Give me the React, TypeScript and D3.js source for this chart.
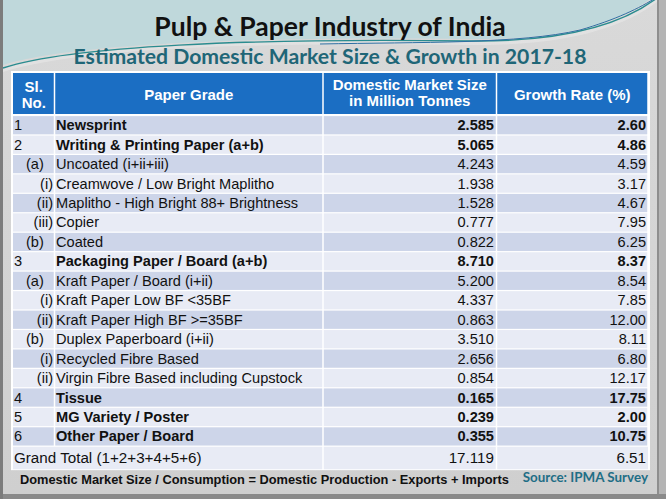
import * as d3 from "d3";

const W = 666;
const H = 499;

const slNo = ["1", "2", "(a)", "(i)", "(ii)", "(iii)", "(b)", "3", "(a)", "(i)", "(ii)", "(b)", "(i)", "(ii)", "4", "5", "6"];
const levels = [0, 0, 1, 2, 2, 2, 1, 0, 1, 2, 2, 1, 2, 2, 0, 0, 0];
const grades = [
  "Newsprint",
  "Writing & Printing Paper (a+b)",
  "Uncoated (i+ii+iii)",
  "Creamwove / Low Bright Maplitho",
  "Maplitho - High Bright 88+ Brightness",
  "Copier",
  "Coated",
  "Packaging Paper / Board (a+b)",
  "Kraft Paper / Board (i+ii)",
  "Kraft Paper Low BF <35BF",
  "Kraft Paper High BF >=35BF",
  "Duplex Paperboard (i+ii)",
  "Recycled Fibre Based",
  "Virgin Fibre Based including Cupstock",
  "Tissue",
  "MG Variety / Poster",
  "Other Paper / Board",
];
const marketSize = [2.585, 5.065, 4.243, 1.938, 1.528, 0.777, 0.822, 8.71, 5.2, 4.337, 0.863, 3.51, 2.656, 0.854, 0.165, 0.239, 0.355];
const growthRate = [2.6, 4.86, 4.59, 3.17, 4.67, 7.95, 6.25, 8.37, 8.54, 7.85, 12.0, 8.11, 6.8, 12.17, 17.75, 2.0, 10.75];
const totalLabel = "Grand Total (1+2+3+4+5+6)";
const totalSize = 17.119;
const totalGrowth = 6.51;

const title = "Pulp & Paper Industry of India";
const subtitle = "Estimated Domestic Market Size & Growth in 2017-18";
const footnote = "Domestic Market Size / Consumption = Domestic Production - Exports + Imports";
const source = "Source: IPMA Survey";

// column edges
const edges = [13, 54.5, 323, 496.5, 648];
const headTop = 73;
const headBot = 114;

const rowScale = d3
  .scaleBand<number>()
  .domain(d3.range(grades.length))
  .range([115.5, 115.5 + grades.length * 19.45]);

const fmt3 = d3.format(".3f");
const fmt2 = d3.format(".2f");

const body = "'Liberation Sans', Arial, sans-serif";
const narrow = "'Liberation Sans Narrow', 'Arial Narrow', 'Liberation Sans', sans-serif";
const calib = "Lato, 'Open Sans', sans-serif";

export default function App() {
  const bw = rowScale.bandwidth();
  const totTop = rowScale(grades.length - 1)! + bw;
  const totH = 22.5;

  return (
    <svg width={W} height={H} style={{ display: "block", position: "absolute", left: 0, top: 0 }}>
      <defs>
        <linearGradient id="bg" x1="0" y1="0" x2="0" y2="1">
          <stop offset="0" stopColor="#d9d9d9" />
          <stop offset="1" stopColor="#cfcfcf" />
        </linearGradient>
      </defs>
      {/* frame + wave */}
      <rect x={0} y={0} width={W} height={H} fill="#9a9a9a" />
      <rect x={3} y={0} width={654} height={494} fill="url(#bg)" />
      <path d="M3,0 H657 V-6 C620,24 560,40 470,39 C250,36 70,44 3,65 Z" fill="#bfd8db" />
      <path d="M3,72 C80,48 250,42 470,45 C560,46 620,30 657,2 L657,-2 C620,26 560,42 470,41 C250,38 70,46 3,68 Z" fill="#e6e6e6" fillOpacity={0.7} />
      <path d="M3,68 C70,46 250,38 470,41 C560,42 620,26 657,-2" fill="none" stroke="#2a8c8f" strokeWidth={1.4} />
      <path d="M320,44 C420,42 520,44 580,30 C615,20 640,8 657,-3" fill="none" stroke="#2d6fa3" strokeWidth={1} />
      <rect x={657} y={0} width={9} height={H} fill="#b4b4b4" />
      <rect x={657} y={0} width={2} height={H} fill="#8e8e8e" />
      <rect x={0} y={494} width={W} height={5} fill="#8a8a8a" />
      <rect x={0} y={0} width={3} height={H} fill="#7c7c7c" />

      {/* titles */}
      <text x={330} y={36} textAnchor="middle" fontFamily={calib} fontWeight={700} fontSize={26.5} fill="#111">
        {title}
      </text>
      <text x={330} y={63.5} textAnchor="middle" fontFamily={calib} fontWeight={700} fontSize={21.2} fill="#1f6677">
        {subtitle}
      </text>

      {/* table base */}
      <rect x={11} y={71} width={639} height={totTop + totH - 71 + 1.5} fill="#ffffff" />

      {/* header */}
      {edges.slice(0, -1).map((x0, c) => (
        <rect key={c} x={x0 + (c === 0 ? 0 : 0.75)} y={headTop} width={edges[c + 1] - x0 - (c === 0 ? 0.75 : 1.5)} height={headBot - headTop} fill="#1b6ec3" />
      ))}
      <g fontFamily={narrow} fontWeight={700} fontSize={15} fill="#fff" textAnchor="middle">
        <text x={(edges[0] + edges[1]) / 2} y={91.5}>Sl.</text>
        <text x={(edges[0] + edges[1]) / 2} y={108}>No.</text>
        <text x={(edges[1] + edges[2]) / 2} y={100}>Paper Grade</text>
        <text x={(edges[2] + edges[3]) / 2} y={89.5}>Domestic Market Size</text>
        <text x={(edges[2] + edges[3]) / 2} y={106}>in Million Tonnes</text>
        <text x={(edges[3] + edges[4]) / 2} y={100}>Growth Rate (%)</text>
      </g>

      {/* body rows */}
      {grades.map((g, i) => {
        const y = rowScale(i)!;
        const fill = i % 2 === 0 ? "#cdd5e9" : "#e8ebf5";
        const bold = levels[i] === 0 ? 700 : 400;
        const ty = y + bw / 2 + 5;
        const lvl = levels[i];
        const slX = lvl === 0 ? 14 : lvl === 1 ? 26 : 53;
        return (
          <g key={i}>
            {edges.slice(0, -1).map((x0, c) => (
              <rect key={c} x={x0 + (c === 0 ? 0 : 0.75)} y={y + 0.6} width={edges[c + 1] - x0 - (c === 0 ? 0.75 : 1.5)} height={bw - 1.2} fill={fill} />
            ))}
            <g fontFamily={body} fontSize={14.6} fill="#111">
              <text x={slX} y={ty} textAnchor={lvl === 2 ? "end" : "start"}>{slNo[i]}</text>
              <text x={56} y={ty} fontWeight={bold}>{g}</text>
              <text x={494} y={ty} textAnchor="end" fontWeight={bold}>{fmt3(marketSize[i])}</text>
              <text x={646} y={ty} textAnchor="end" fontWeight={bold}>{fmt2(growthRate[i])}</text>
            </g>
          </g>
        );
      })}

      {/* grand total */}
      <rect x={edges[0]} y={totTop + 0.6} width={edges[2] - edges[0] - 0.75} height={totH} fill="#e8ebf5" />
      <rect x={edges[2] + 0.75} y={totTop + 0.6} width={edges[3] - edges[2] - 1.5} height={totH} fill="#e8ebf5" />
      <rect x={edges[3] + 0.75} y={totTop + 0.6} width={edges[4] - edges[3] - 0.75} height={totH} fill="#e8ebf5" />
      <g fontFamily={body} fontSize={15.2} fill="#111">
        <text x={14} y={totTop + totH / 2 + 6}>{totalLabel}</text>
        <text x={494} y={totTop + totH / 2 + 6} textAnchor="end">{fmt3(totalSize)}</text>
        <text x={646} y={totTop + totH / 2 + 6} textAnchor="end">{fmt2(totalGrowth)}</text>
      </g>

      {/* footer */}
      <text x={20} y={483.5} fontFamily={narrow} fontWeight={700} fontSize={13.2} fill="#111" textLength={489} lengthAdjust="spacingAndGlyphs">
        {footnote}
      </text>
      <text x={648} y={481.5} textAnchor="end" fontFamily={calib} fontWeight={700} fontSize={13.4} fill="#1f6e86">
        {source}
      </text>
    </svg>
  );
}
